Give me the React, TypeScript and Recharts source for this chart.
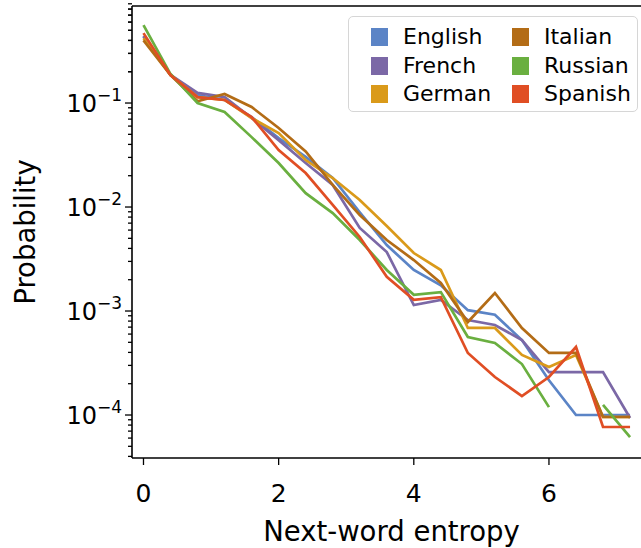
import { LineChart, Line, XAxis, YAxis, ReferenceLine } from "recharts";

const entropy = [0, 0.4, 0.8, 1.2, 1.6, 2.0, 2.4, 2.8, 3.2, 3.6, 4.0, 4.4, 4.8, 5.2, 5.6, 6.0, 6.4, 6.8, 7.2];

const english = [0.44, 0.186, 0.119, 0.107, 0.0733, 0.046, 0.0303, 0.019, 0.0089, 0.00431, 0.00248, 0.00177, 0.00102, 0.00092, 0.000526, 0.000216, 0.0001, 0.0001, 0.0001];
const french = [0.44, 0.186, 0.125, 0.114, 0.0717, 0.044, 0.0265, 0.0163, 0.0063, 0.00369, 0.00114, 0.00128, 0.000819, 0.000733, 0.000526, 0.000259, 0.000259, 0.000259, 0.0000935];
const german = [0.42, 0.186, 0.114, 0.107, 0.0717, 0.0515, 0.0283, 0.019, 0.0117, 0.00656, 0.00361, 0.00248, 0.000687, 0.000687, 0.000378, 0.000289, 0.000378, 0.0000957, 0.0000957];
const italian = [0.4, 0.186, 0.104, 0.122, 0.0916, 0.0575, 0.0342, 0.0163, 0.00838, 0.00482, 0.00309, 0.00186, 0.000784, 0.00149, 0.000687, 0.000395, 0.000395, 0.0000957, 0.0000957];
const russian = [0.56, 0.19, 0.1, 0.082, 0.047, 0.0265, 0.0136, 0.00875, 0.00482, 0.00248, 0.00143, 0.00152, 0.000562, 0.000492, 0.000309, 0.000119, null, 0.000125, 0.0000614];
const spanish = [0.47, 0.186, 0.114, 0.107, 0.0733, 0.0353, 0.0212, 0.0105, 0.00515, 0.00213, 0.00128, 0.00136, 0.000395, 0.000232, 0.000152, 0.000232, 0.000451, 0.0000767, 0.0000767];

const xTicks = [0, 2, 4, 6];
const majorExponents = [-4, -3, -2, -1];
const X_DOMAIN = [-0.17, 7.51];
const Y_DOMAIN = [3.86e-5, 0.857];

const series = [
  { name: "English", values: english, color: "#5b84c6" },
  { name: "French", values: french, color: "#7b68a6" },
  { name: "German", values: german, color: "#da9a1a" },
  { name: "Italian", values: italian, color: "#b36c16" },
  { name: "Russian", values: russian, color: "#6aaf40" },
  { name: "Spanish", values: spanish, color: "#e04e24" },
];

const data = entropy.map((e, i) => {
  const row: Record<string, number | null> = { entropy: e };
  series.forEach((s) => (row[s.name] = s.values[i]));
  return row;
});

// major + minor ticks for the log axis
const yTicks: number[] = [];
majorExponents.forEach((ex) => {
  for (let m = 1; m <= 9; m++) yTicks.push(m * Math.pow(10, ex));
});
for (let m = 4; m <= 9; m++) yTicks.push(m * 1e-5);
for (let m = 2; m <= 8; m++) yTicks.push(m * 1e-1);

const FONT = "DejaVu Sans";

const YTick = ({ x, y, payload }: any) => {
  const lg = Math.log10(payload.value);
  const ex = Math.round(lg);
  const major = Math.abs(lg - ex) < 1e-6;
  return (
    <g>
      <line x1={x - (major ? 7 : 4)} x2={x} y1={y} y2={y} stroke="#000" strokeWidth={1.3} />
      {major && (
        <text x={x - 10} y={y + 9} textAnchor="end" fontSize={24} fontFamily={FONT} fill="#000">
          10
          <tspan dy={-11} fontSize={17}>
            {"\u2212" + -ex}
          </tspan>
        </text>
      )}
    </g>
  );
};

const XTick = ({ x, y, payload }: any) => (
  <g>
    <line x1={x} x2={x} y1={y} y2={y + 7} stroke="#000" strokeWidth={1.3} />
    <text x={x} y={y + 44} textAnchor="middle" fontSize={25} fontFamily={FONT} fill="#000">
      {payload.value}
    </text>
  </g>
);

const YLabel = ({ viewBox }: any) => {
  const cx = viewBox.x + 25;
  const cy = viewBox.y + viewBox.height / 2;
  return (
    <text x={cx} y={cy} transform={`rotate(-90, ${cx}, ${cy})`} textAnchor="middle" dominantBaseline="central" fontSize={27.5} fontFamily={FONT} fill="#000">
      Probability
    </text>
  );
};

const LegendBox = () => (
  <div
    style={{
      position: "absolute",
      left: 348,
      top: 16,
      width: 290,
      height: 96,
      boxSizing: "border-box",
      border: "1.5px solid #d6d6d6",
      borderRadius: 5,
      background: "rgba(255,255,255,0.85)",
      fontFamily: FONT,
      fontSize: 22,
    }}
  >
    {series.map((s, i) => {
      const col = Math.floor(i / 3);
      const row = i % 3;
      return (
        <div
          key={s.name}
          style={{ position: "absolute", left: 22 + col * 141, top: 8 + row * 28.7, display: "flex", alignItems: "center", height: 24 }}
        >
          <span style={{ display: "inline-block", width: 17, height: 18, background: s.color, marginRight: 15 }} />
          <span style={{ lineHeight: "24px" }}>{s.name}</span>
        </div>
      );
    })}
  </div>
);

export default function App() {
  return (
    <div style={{ position: "absolute", left: 0, top: 0, width: 641, height: 548, overflow: "hidden", background: "#fff" }}>
      <LineChart width={651} height={548} data={data} margin={{ top: 6, right: 0, left: 0, bottom: 0 }}>
        <XAxis
          dataKey="entropy"
          type="number"
          domain={X_DOMAIN}
          allowDataOverflow
          ticks={xTicks}
          tick={<XTick />}
          tickLine={false}
          tickSize={0}
          tickMargin={0}
          height={90}
          axisLine={{ stroke: "#000", strokeWidth: 1.6 }}
          label={{ value: "Next-word entropy", position: "insideBottom", offset: 7, fontSize: 27.5, fontFamily: FONT, fill: "#000" }}
        />
        <YAxis
          scale="log"
          type="number"
          domain={Y_DOMAIN}
          allowDataOverflow
          ticks={yTicks}
          interval={0}
          tick={<YTick />}
          tickLine={false}
          tickSize={0}
          tickMargin={0}
          width={132}
          axisLine={{ stroke: "#000", strokeWidth: 1.6 }}
          label={<YLabel />}
        />
        <ReferenceLine y={Y_DOMAIN[1]} stroke="#000" strokeWidth={1.6} ifOverflow="visible" />
        {series.map((s) => (
          <Line
            key={s.name}
            dataKey={s.name}
            stroke={s.color}
            strokeWidth={2.7}
            dot={false}
            isAnimationActive={false}
            type="linear"
          />
        ))}
      </LineChart>
      <LegendBox />
    </div>
  );
}
